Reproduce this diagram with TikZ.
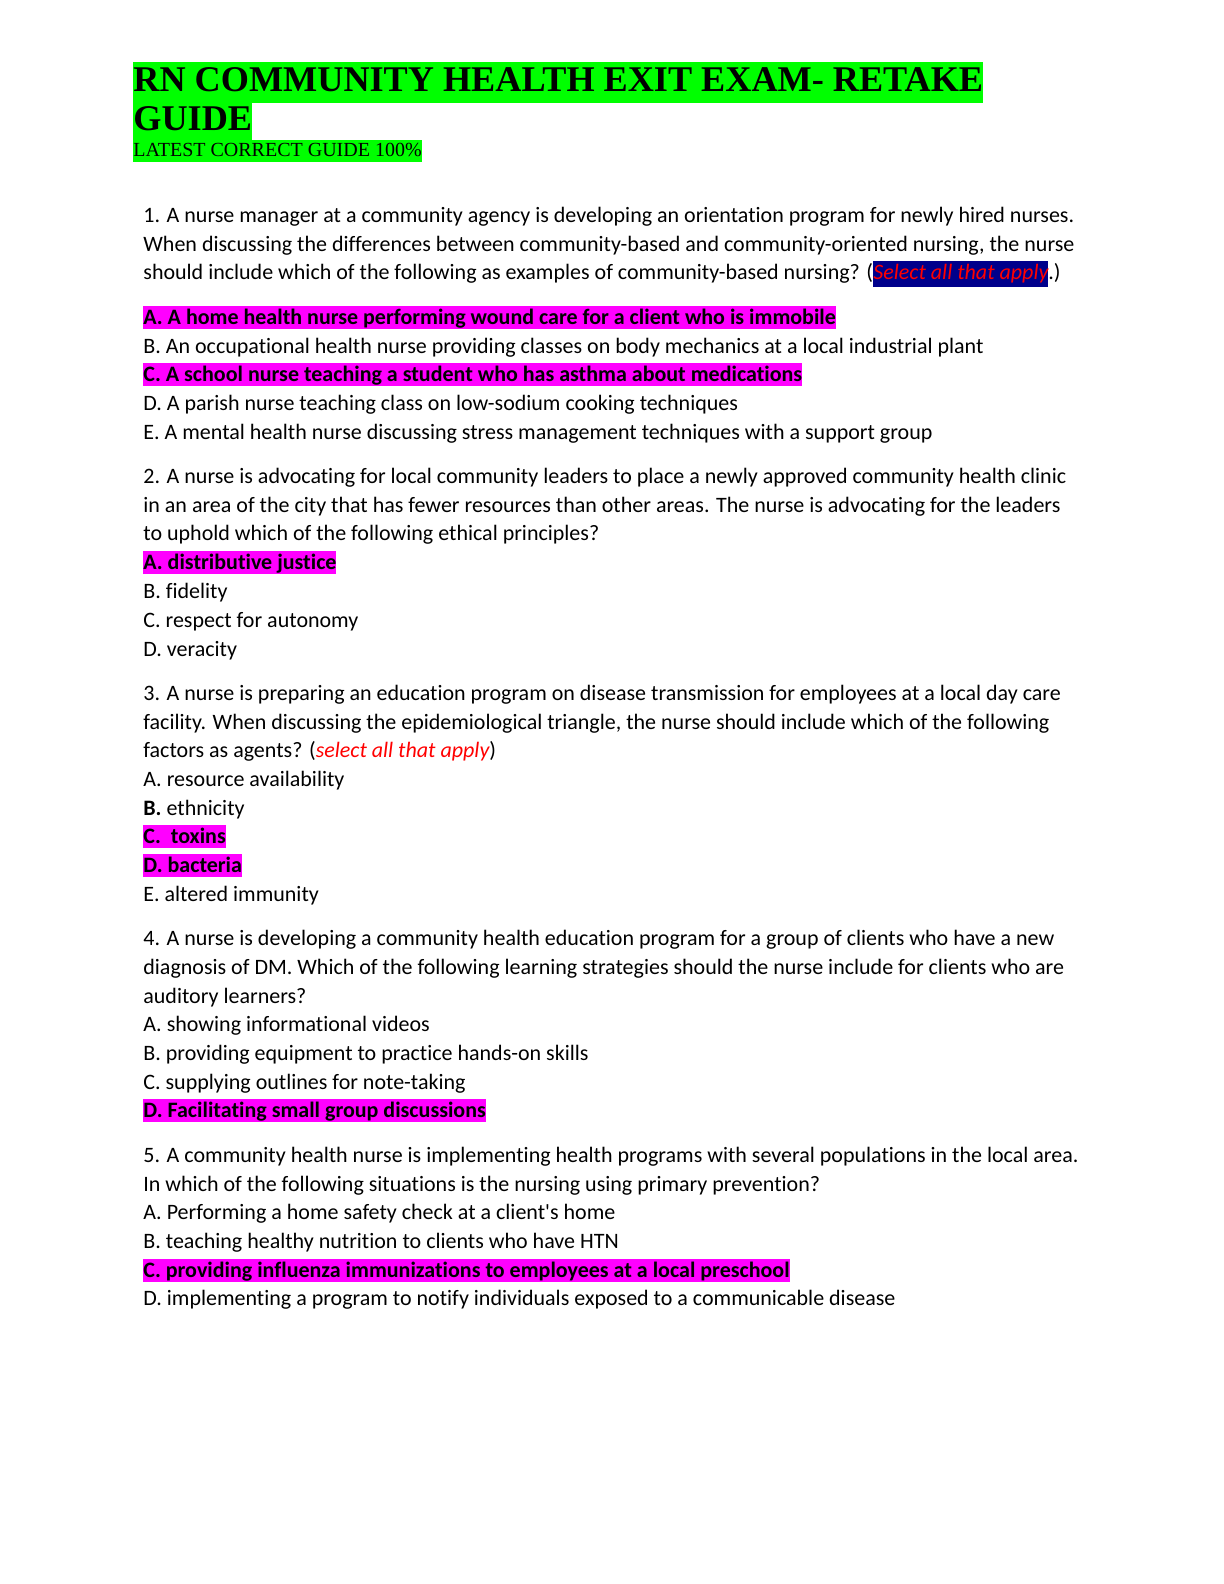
\documentclass[tikz,border=0pt]{standalone}
\usepackage{fontspec}
\setmainfont{Carlito}[Ligatures=NoCommon]
\newfontfamily\titlefont{Liberation Serif}
\definecolor{hlgreen}{RGB}{0,255,0}
\definecolor{hlpink}{RGB}{255,0,255}
\definecolor{hlnavy}{RGB}{0,0,139}
\begin{document}
\begin{tikzpicture}[x=0.5pt,y=-0.5pt,
    txt/.style={anchor=base west, inner sep=0pt, font=\fontsize{11}{13}\selectfont},
    hl/.style={txt, fill=hlpink, text height=9pt, text depth=2.4pt, font=\fontsize{11}{13}\selectfont\bfseries},
    ttl/.style={anchor=base west, inner sep=0pt, fill=hlgreen, font=\titlefont\fontsize{18.1}{20}\selectfont\bfseries, text height=14.5pt, text depth=6pt}]
  \useasboundingbox (0,0) rectangle (1224,1584);
  % title
  \node[ttl] (t1) at (133,91) {RN COMMUNITY HEALTH EXIT EXAM- RETAKE\ };
  \node[ttl] (t2) at (133,131) {GUIDE};
  \node[anchor=base west, inner sep=0pt, fill=hlgreen, text height=8pt, text depth=3pt,
    font=\titlefont\fontsize{10}{11}\selectfont] (t3) at (133,156) {LATEST CORRECT GUIDE 100\%};

  % question 1
  \node[txt] (q1a) at (143,222) {1. A nurse manager at a community agency is developing an orientation program for newly hired nurses.};
  \node[txt] (q1b) at (143,251) {When discussing the differences between community-based and community-oriented nursing, the nurse};
  \node[txt] (q1c) at (143,279) {should include which of the following as examples of community-based nursing? ({\setlength{\fboxsep}{0pt}\colorbox{hlnavy}{\strut\color{red}\itshape Select all that apply}}.)};
  \node[hl] (a1a) at (143,324) {A. A home health nurse performing wound care for a client who is immobile};
  \node[txt] (a1b) at (143,353) {B. An occupational health nurse providing classes on body mechanics at a local industrial plant};
  \node[hl] (a1c) at (143,381) {C. A school nurse teaching a student who has asthma about medications};
  \node[txt] (a1d) at (143,410) {D. A parish nurse teaching class on low-sodium cooking techniques};
  \node[txt] (a1e) at (143,439) {E. A mental health nurse discussing stress management techniques with a support group};

  % question 2
  \node[txt] (q2a) at (143,483) {2. A nurse is advocating for local community leaders to place a newly approved community health clinic};
  \node[txt] (q2b) at (143,512) {in an area of the city that has fewer resources than other areas. The nurse is advocating for the leaders};
  \node[txt] (q2c) at (143,540) {to uphold which of the following ethical principles?};
  \node[hl] (a2a) at (143,569) {A. distributive justice};
  \node[txt] (a2b) at (143,598) {B. fidelity};
  \node[txt] (a2c) at (143,627) {C. respect for autonomy};
  \node[txt] (a2d) at (143,656) {D. veracity};

  % question 3
  \node[txt] (q3a) at (143,700) {3. A nurse is preparing an education program on disease transmission for employees at a local day care};
  \node[txt] (q3b) at (143,729) {facility. When discussing the epidemiological triangle, the nurse should include which of the following};
  \node[txt] (q3c) at (143,757) {factors as agents? ({\color{red}\itshape select all that apply})};
  \node[txt] (a3a) at (143,786) {A. resource availability};
  \node[txt] (a3b) at (143,815) {\textbf{B.} ethnicity};
  \node[hl] (a3c) at (143,843) {C.\ \ toxins\ };
  \node[hl] (a3d) at (143,872) {D. bacteria};
  \node[txt] (a3e) at (143,901) {E. altered immunity};

  % question 4
  \node[txt] (q4a) at (143,945) {4. A nurse is developing a community health education program for a group of clients who have a new};
  \node[txt] (q4b) at (143,974) {diagnosis of DM. Which of the following learning strategies should the nurse include for clients who are};
  \node[txt] (q4c) at (143,1003) {auditory learners?};
  \node[txt] (a4a) at (143,1031) {A. showing informational videos};
  \node[txt] (a4b) at (143,1060) {B. providing equipment to practice hands-on skills};
  \node[txt] (a4c) at (143,1089) {C. supplying outlines for note-taking};
  \node[hl] (a4d) at (143,1117) {D. Facilitating small group discussions};

  % question 5
  \node[txt] (q5a) at (143,1162) {5. A community health nurse is implementing health programs with several populations in the local area.};
  \node[txt] (q5b) at (143,1191) {In which of the following situations is the nursing using primary prevention?};
  \node[txt] (a5a) at (143,1219) {A. Performing a home safety check at a client\textquotesingle s home};
  \node[txt] (a5b) at (143,1248) {B. teaching healthy nutrition to clients who have HTN};
  \node[hl] (a5c) at (143,1277) {C. providing influenza immunizations to employees at a local preschool};
  \node[txt] (a5d) at (143,1305) {D. implementing a program to notify individuals exposed to a communicable disease};
\end{tikzpicture}
\end{document}
